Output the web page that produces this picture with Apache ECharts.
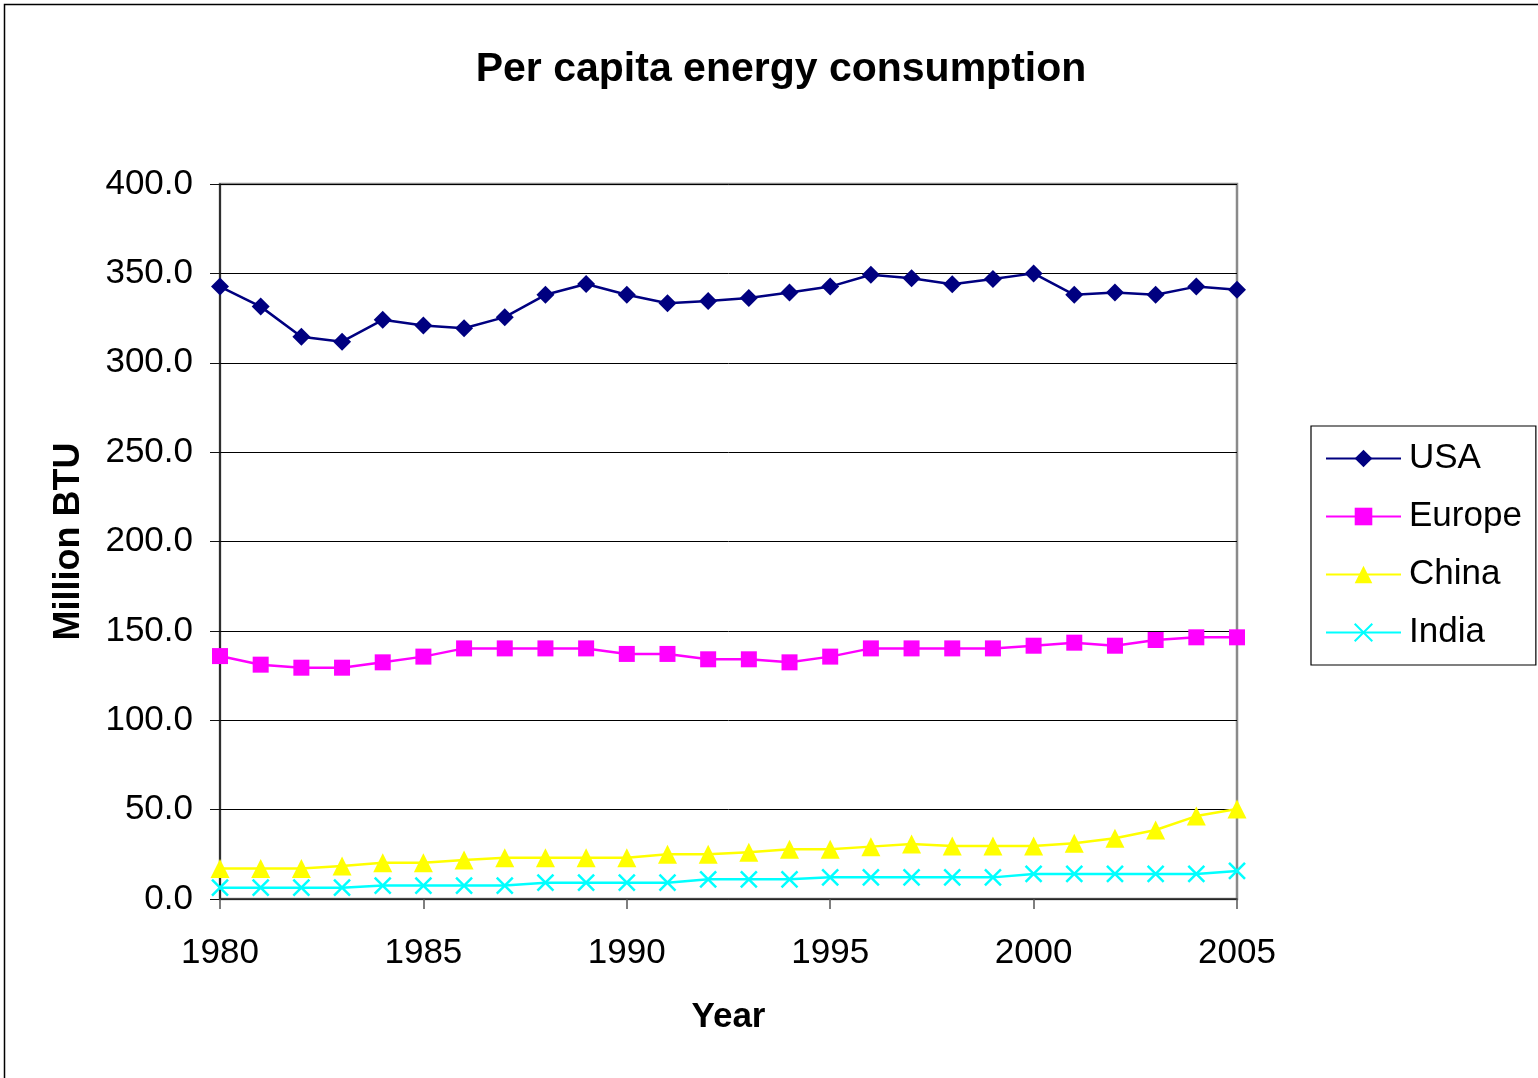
<!DOCTYPE html>
<html>
<head>
<meta charset="utf-8">
<style>
  html, body { margin: 0; padding: 0; background: #fff; }
  #chart { width: 1538px; height: 1078px; }
</style>
<script src="https://cdn.jsdelivr.net/npm/echarts@6/dist/echarts.min.js"></script>
</head>
<body>
<div id="chart"></div>
<script>
// Per capita energy consumption, million BTU, 1980-2005
const years = [1980, 1981, 1982, 1983, 1984, 1985, 1986, 1987, 1988, 1989, 1990, 1991, 1992,
               1993, 1994, 1995, 1996, 1997, 1998, 1999, 2000, 2001, 2002, 2003, 2004, 2005];
const usa = [342.6, 331.4, 314.6, 311.8, 324.0, 320.8, 319.3, 325.5, 338.0, 344.1, 338.0, 333.3, 334.5,
             336.2, 339.3, 342.6, 349.2, 347.3, 343.9, 346.9, 350.0, 338.0, 339.3, 338.0, 342.6, 340.8];
const europe = [135.9, 131.1, 129.4, 129.4, 132.4, 135.6, 140.2, 140.2, 140.2, 140.2, 137.1, 137.1, 134.1,
                134.1, 132.4, 135.6, 140.2, 140.2, 140.2, 140.2, 141.7, 143.4, 141.7, 144.9, 146.4, 146.4];
const china = [17.1, 17.1, 17.1, 18.5, 20.3, 20.3, 21.8, 23.1, 23.1, 23.1, 23.1, 25.0, 25.0,
               26.1, 27.8, 27.8, 29.3, 30.8, 29.7, 29.7, 29.7, 31.2, 34.0, 38.6, 46.4, 50.3];
const india = [6.3, 6.3, 6.3, 6.3, 7.5, 7.5, 7.5, 7.5, 9.1, 9.1, 9.1, 9.1, 11.0,
               11.0, 11.0, 12.1, 12.1, 12.1, 12.1, 12.1, 14.0, 14.0, 14.0, 14.0, 14.0, 15.7];
const seriesNames = ['USA', 'Europe', 'China', 'India'];
const yTicks = [0, 50, 100, 150, 200, 250, 300, 350, 400];
const xTicks = [1980, 1985, 1990, 1995, 2000, 2005];

const FONT = '"Liberation Sans", Arial, sans-serif';
const pairs = vals => years.map((y, i) => [y, vals[i]]);
const crossSymbol = 'path://M0,0L10,10M10,0L0,10';

function lineSeries(name, vals, color, symbol, size, extra) {
  return Object.assign({
    name: name,
    type: 'line',
    data: pairs(vals),
    symbol: symbol,
    symbolSize: size,
    showAllSymbol: true,
    lineStyle: { color: color, width: 2.5 },
    itemStyle: { color: color },
    emphasis: { disabled: true },
    animation: false,
    z: 3
  }, extra || {});
}

const chart = echarts.init(document.getElementById('chart'), null, { renderer: 'canvas' });
chart.setOption({
  backgroundColor: '#ffffff',
  animation: false,
  title: {
    text: 'Per capita energy consumption',
    left: 776,
    textAlign: 'center',
    top: 44,
    textStyle: { fontFamily: FONT, fontSize: 41, fontWeight: 'bold', color: '#000' }
  },
  graphic: [{
    type: 'rect',
    shape: { x: 4.5, y: 4.5, width: 1560, height: 1100 },
    style: { fill: 'none', stroke: '#000', lineWidth: 1.5 },
    silent: true,
    z: -10
  }],
  legend: {
    orient: 'vertical',
    left: 1311,
    top: 426,
    width: 219,
    padding: [15, 14, 15, 14],
    itemWidth: 75,
    itemHeight: 22,
    itemGap: 23,
    borderColor: '#000',
    borderWidth: 1.2,
    backgroundColor: '#fff',
    data: seriesNames,
    textStyle: { fontFamily: FONT, fontSize: 35, color: '#000', padding: [0, 0, 0, 3] }
  },
  grid: {
    left: 220,
    right: 301,
    top: 184,
    bottom: 179,
    show: true,
    borderColor: '#8a8a8a',
    borderWidth: 2.5,
    backgroundColor: 'transparent'
  },
  xAxis: {
    type: 'value',
    min: 1980,
    max: 2005,
    interval: 5,
    name: 'Year',
    nameLocation: 'middle',
    nameGap: 101,
    nameTextStyle: { fontFamily: FONT, fontSize: 35, fontWeight: 'bold', color: '#000' },
    axisLine: { show: true, lineStyle: { color: '#333', width: 1.5 } },
    axisTick: { show: true, length: 10, lineStyle: { color: '#555', width: 1.5 } },
    axisLabel: {
      margin: 37,
      fontFamily: FONT,
      fontSize: 35,
      color: '#000',
      formatter: v => (xTicks.indexOf(v) >= 0 ? String(v) : '')
    },
    splitLine: { show: false }
  },
  yAxis: {
    type: 'value',
    min: 0,
    max: 400,
    interval: 50,
    name: 'Million BTU',
    nameLocation: 'middle',
    nameGap: 133,
    nameRotate: 90,
    nameTextStyle: { fontFamily: FONT, fontSize: 36, fontWeight: 'bold', color: '#000' },
    axisLine: { show: true, lineStyle: { color: '#111', width: 1.5 } },
    axisTick: { show: true, length: 10, lineStyle: { color: '#111', width: 1 } },
    axisLabel: {
      margin: 27,
      fontFamily: FONT,
      fontSize: 35,
      color: '#000',
      formatter: v => (yTicks.indexOf(v) >= 0 ? v.toFixed(1) : '')
    },
    splitLine: { show: true, lineStyle: { color: '#000', width: 1 } }
  },
  series: [
    lineSeries('USA', usa, '#000080', 'diamond', 18),
    lineSeries('Europe', europe, '#ff00ff', 'rect', 16),
    lineSeries('China', china, '#ffff00', 'triangle', 19),
    lineSeries('India', india, '#00ffff', crossSymbol, 16, {
      itemStyle: { color: 'none', borderColor: '#00ffff', borderWidth: 2.5 }
    })
  ]
});
</script>
</body>
</html>
